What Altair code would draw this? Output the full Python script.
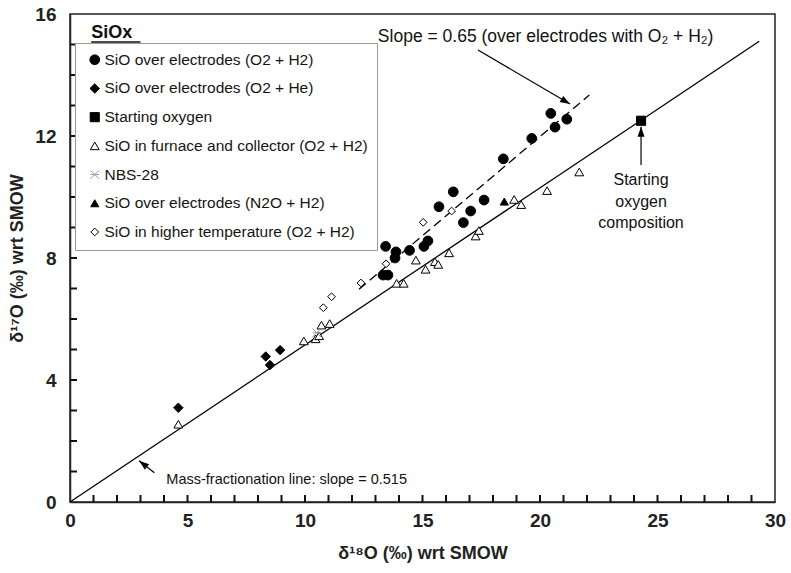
import math
import altair as alt
import pandas as pd

# ---- plot geometry (plot area in pixels) ----
W, H = 705, 488
X_MAX, Y_MAX = 30, 16
FONT = "Liberation Sans"
TICK_PX = 7

# ---- series ----
series_names = [
    "SiO over electrodes (O2 + H2)",
    "SiO over electrodes (O2 + He)",
    "Starting oxygen",
    "SiO in furnace and collector (O2 + H2)",
    "NBS-28",
    "SiO over electrodes (N2O + H2)",
    "SiO in higher temperature (O2 + H2)",
]

elec_o2h2_d18 = [20.46, 21.14, 20.64, 19.65, 18.44, 16.31, 15.70, 17.62, 17.05,
                 16.74, 15.23, 15.06, 14.45, 13.87, 13.83, 13.43, 13.32, 13.53]
elec_o2h2_d17 = [12.74, 12.55, 12.29, 11.92, 11.25, 10.17, 9.68, 9.90, 9.54,
                 9.16, 8.56, 8.38, 8.25, 8.20, 8.00, 8.38, 7.44, 7.44]

elec_o2he_d18 = [4.61, 8.33, 8.51, 8.94]
elec_o2he_d17 = [3.09, 4.77, 4.49, 4.98]

start_d18 = [24.3]
start_d17 = [12.5]

furnace_d18 = [4.61, 9.95, 10.45, 10.60, 10.70, 11.05, 13.90, 14.20, 14.72, 15.13,
               15.53, 15.67, 16.13, 17.26, 17.40, 18.90, 19.20, 20.30, 21.67]
furnace_d17 = [2.55, 5.28, 5.35, 5.45, 5.80, 5.85, 7.17, 7.17, 7.93, 7.63,
               7.88, 7.79, 8.17, 8.72, 8.90, 9.92, 9.75, 10.21, 10.82]

nbs28_d18 = [10.50]
nbs28_d17 = [5.55]

elec_n2o_d18 = [18.48]
elec_n2o_d17 = [9.85]

hight_d18 = [10.78, 11.13, 12.38, 13.45, 15.03, 16.24]
hight_d17 = [6.37, 6.73, 7.18, 7.81, 9.17, 9.54]

# ---- reference lines ----
mass_slope = 0.515
mass_x = [0.0, 29.33]
elec_slope = 0.65
elec_intercept = -1.02
elec_x = [12.3, 22.1]

# ---- annotations ----
arrow_x0 = [17.36, 24.3, 3.59]
arrow_y0 = [14.82, 11.05, 0.96]
arrow_x1 = [21.28, 24.3, 2.94]
arrow_y1 = [13.05, 12.30, 1.35]

slope_text = ["Slope = 0.65 (over electrodes with O\u2082 + H\u2082)"]
slope_x = [13.1]
slope_y = [15.25]

mass_text = ["Mass-fractionation line: slope = 0.515"]
mass_tx = [4.1]
mass_ty = [0.72]

start_text = ["Starting", "oxygen", "composition"]
start_x = [24.3, 24.3, 24.3]
start_y = [10.56, 9.84, 9.15]

x_ticks = list(range(1, 30))
y_ticks = list(range(1, 16))
x_labels = [0, 5, 10, 15, 20, 25, 30]
y_labels = [0, 4, 8, 12, 16]

# ---- tables ----
groups = [
    (elec_o2h2_d18, elec_o2h2_d17), (elec_o2he_d18, elec_o2he_d17),
    (start_d18, start_d17), (furnace_d18, furnace_d17),
    (nbs28_d18, nbs28_d17), (elec_n2o_d18, elec_n2o_d17),
    (hight_d18, hight_d17),
]
rows = []
for name, (xs, ys) in zip(series_names, groups):
    for a, b in zip(xs, ys):
        rows.append({"d18": a, "d17": b, "series": name})
points = pd.DataFrame(rows)

mass_line = pd.DataFrame({"d18": mass_x, "d17": [mass_slope * v for v in mass_x]})
elec_line = pd.DataFrame({"d18": elec_x,
                          "d17": [elec_slope * v + elec_intercept for v in elec_x]})

px_x, px_y = W / X_MAX, H / Y_MAX
arrows = pd.DataFrame({"x0": arrow_x0, "y0": arrow_y0, "x1": arrow_x1, "y1": arrow_y1})
arrows["ang"] = [
    (math.degrees(math.atan2((b - a) * px_x, (d - c) * px_y)) + 360) % 360
    for a, b, c, d in zip(arrow_x0, arrow_x1, arrow_y0, arrow_y1)
]
slope_note = pd.DataFrame({"x": slope_x, "y": slope_y, "t": slope_text})
mass_note = pd.DataFrame({"x": mass_tx, "y": mass_ty, "t": mass_text})
start_notes = pd.DataFrame({"x": start_x, "y": start_y, "t": start_text})

# inward tick segments: a fixed pixel length expressed in data units
xt = pd.DataFrame({"tv": x_ticks,
                   "t0": [0.0] * len(x_ticks),
                   "t1": [TICK_PX / px_y] * len(x_ticks)})
yt = pd.DataFrame({"tv": y_ticks,
                   "t0": [0.0] * len(y_ticks),
                   "t1": [TICK_PX / px_x] * len(y_ticks)})

legend_title = pd.DataFrame({"x": [0.9], "y": [15.22], "t": ["SiOx"]})
legend_underline = pd.DataFrame({"x": [0.9], "x2": [3.0], "y": [15.08]})

# ---- scales / axes ----
xscale = alt.Scale(domain=[0, X_MAX], nice=False, zero=True)
yscale = alt.Scale(domain=[0, Y_MAX], nice=False, zero=True)
xaxis = alt.Axis(values=x_labels, ticks=False, grid=False, domainColor="#222",
                 domainWidth=1.5, labelFont=FONT, labelFontSize=19,
                 labelFontWeight="bold", labelColor="#222", labelPadding=9,
                 title="\u03b4\u00b9\u2078O (\u2030) wrt SMOW", titleFont=FONT,
                 titleFontSize=18, titleFontWeight="bold", titleColor="#222",
                 titlePadding=14, labelFlush=False)
yaxis = alt.Axis(values=y_labels, ticks=False, grid=False, domainColor="#222",
                 domainWidth=1.5, labelFont=FONT, labelFontSize=19,
                 labelFontWeight="bold", labelColor="#222", labelPadding=14,
                 title="\u03b4\u00b9\u2077O (\u2030) wrt SMOW", titleFont=FONT,
                 titleFontSize=18, titleFontWeight="bold", titleColor="#222",
                 titlePadding=8, labelFlush=False)


def X(field):
    return alt.X(field, type="quantitative", scale=xscale, axis=xaxis)


def Y(field):
    return alt.Y(field, type="quantitative", scale=yscale, axis=yaxis)


NBS_PATH = "M-1,-1L1,1M-1,1L1,-1M-1,0L1,0"
HEAD_PATH = "M0,0L-0.35,1L0.35,1Z"

shape_range = ["circle", "diamond", "square", "triangle-up", NBS_PATH,
               "triangle-up", "diamond"]
fill_range = ["black", "black", "black", "white", "#9a9a9a", "black", "white"]
stroke_range = ["black", "black", "black", "black", "#9a9a9a", "black", "black"]
size_range = [95, 60, 55, 65, 45, 75, 55]

legend = alt.Legend(title=None, orient="none", legendX=5, legendY=29,
                    direction="vertical", strokeColor="#9a9a9a",
                    fillColor="white", padding=9, rowPadding=11.7,
                    symbolOffset=3, labelFont=FONT, labelFontSize=15.5,
                    labelColor="#151515", labelOffset=2, symbolStrokeWidth=1,
                    labelLimit=400)

# ---- layers ----
mass = alt.Chart(mass_line).mark_line(color="black", strokeWidth=1.3).encode(
    x=X("d18"), y=Y("d17"))
elec = alt.Chart(elec_line).mark_line(color="black", strokeWidth=1.3,
                                      strokeDash=[9, 5]).encode(
    x=X("d18"), y=Y("d17"))

pts = alt.Chart(points).mark_point(opacity=1, strokeWidth=1, fillOpacity=1).encode(
    x=X("d18"), y=Y("d17"),
    shape=alt.Shape("series:N", scale=alt.Scale(domain=series_names, range=shape_range),
                    legend=legend),
    fill=alt.Fill("series:N", scale=alt.Scale(domain=series_names, range=fill_range),
                  legend=legend),
    stroke=alt.Stroke("series:N", scale=alt.Scale(domain=series_names, range=stroke_range),
                      legend=legend),
    size=alt.Size("series:N", scale=alt.Scale(domain=series_names, range=size_range),
                  legend=legend),
)

shafts = alt.Chart(arrows).mark_rule(color="black", strokeWidth=1.2).encode(
    x=X("x0"), y=Y("y0"), x2="x1", y2="y1")
heads = alt.Chart(arrows).mark_point(shape=HEAD_PATH, filled=True, color="black",
                                     size=400, opacity=1).encode(
    x=X("x1"), y=Y("y1"), angle=alt.Angle("ang:Q", scale=None))

slope_mark = alt.Chart(slope_note).mark_text(align="left", baseline="middle",
                                             font=FONT, fontSize=17.5,
                                             color="#111").encode(
    x=X("x"), y=Y("y"), text="t:N")
mass_mark = alt.Chart(mass_note).mark_text(align="left", baseline="middle",
                                           font=FONT, fontSize=14.5,
                                           color="#111").encode(
    x=X("x"), y=Y("y"), text="t:N")
start_marks = alt.Chart(start_notes).mark_text(align="center", baseline="middle",
                                               font=FONT, fontSize=16,
                                               color="#111").encode(
    x=X("x"), y=Y("y"), text="t:N")

title_mark = alt.Chart(legend_title).mark_text(align="left", baseline="alphabetic",
                                               font=FONT, fontSize=18,
                                               fontWeight="bold",
                                               color="#111").encode(
    x=X("x"), y=Y("y"), text="t:N")
underline = alt.Chart(legend_underline).mark_rule(color="#111", strokeWidth=1.5).encode(
    x=X("x"), x2="x2", y=Y("y"))

# inward ticks along the bottom and left edges
ticks_x = alt.Chart(xt).mark_rule(stroke="#111", strokeWidth=2, opacity=1).encode(
    x=X("tv"), y=Y("t0"), y2="t1")
ticks_y = alt.Chart(yt).mark_rule(stroke="#111", strokeWidth=2, opacity=1).encode(
    y=Y("tv"), x=X("t0"), x2="t1")

chart = alt.layer(
    mass, elec, pts, shafts, heads, slope_mark, mass_mark, start_marks,
    title_mark, underline, ticks_x, ticks_y,
).properties(
    width=W, height=H,
    autosize=alt.AutoSizeParams(type="none"),
    padding={"left": 70, "top": 14, "right": 16, "bottom": 71},
    background="white",
).configure_view(stroke="#222", strokeWidth=1.5)

chart.save("out.html", embed_options={"renderer": "svg", "actions": False})
